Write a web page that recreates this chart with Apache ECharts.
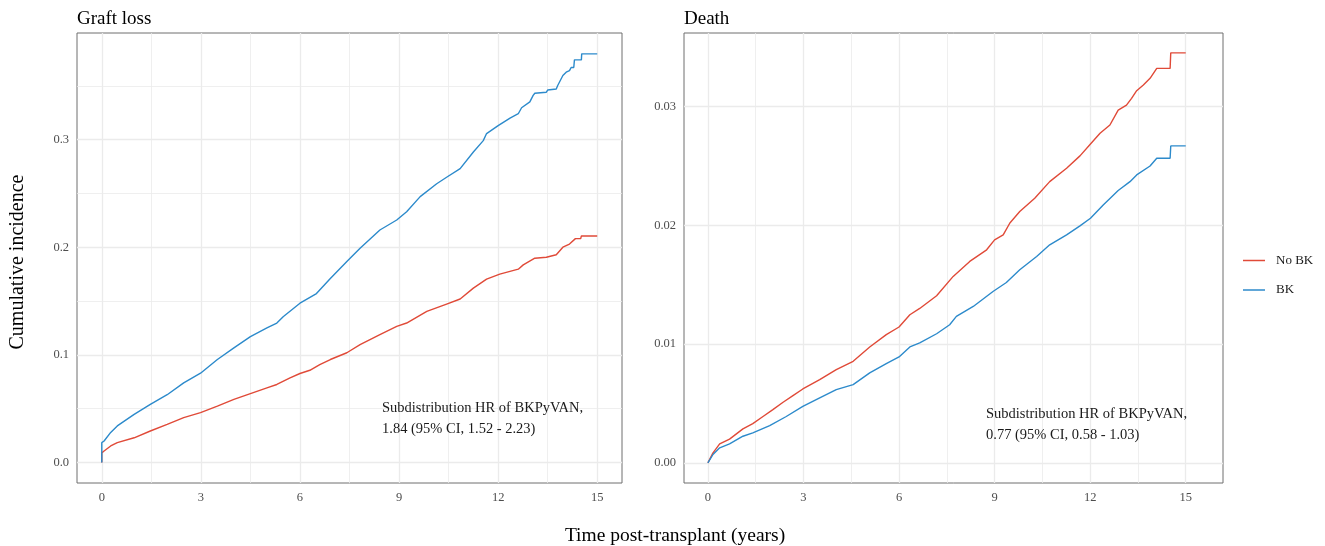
<!DOCTYPE html>
<html>
<head>
<meta charset="utf-8">
<title>Cumulative incidence</title>
<script src="https://cdn.jsdelivr.net/npm/echarts@6.0.0/dist/echarts.min.js"></script>
<style>
  html, body { margin: 0; padding: 0; background: #fff; }
  #chart { width: 1325px; height: 546px; }
</style>
</head>
<body>
<div id="chart"></div>
<script>
// ---- data (years, cumulative incidence) ----
const graftNoBkTime = [0, 0, 0.07, 0.27, 0.47, 0.98, 1.47, 1.98, 2.48, 2.99, 3.5, 4.0, 4.5, 5.0, 5.3, 5.7, 6.0, 6.3, 6.6, 6.92, 7.42, 7.82, 8.42, 8.93, 9.23, 9.84, 10.44, 10.85, 11.25, 11.65, 12.05, 12.61, 12.76, 13.11, 13.46, 13.76, 13.96, 14.16, 14.34, 14.5, 14.52, 15]
const graftNoBk = [0, 0.009, 0.0107, 0.0154, 0.0185, 0.023, 0.0293, 0.0355, 0.0417, 0.0463, 0.0524, 0.0586, 0.064, 0.0694, 0.0725, 0.0787, 0.0827, 0.0857, 0.091, 0.0957, 0.102, 0.1095, 0.1188, 0.1265, 0.1296, 0.1404, 0.1472, 0.1519, 0.162, 0.1704, 0.175, 0.1796, 0.1836, 0.1898, 0.1907, 0.193, 0.2, 0.203, 0.208, 0.208, 0.2105, 0.2105]

const graftBkTime = [0, 0, 0.07, 0.27, 0.47, 0.98, 1.47, 1.98, 2.48, 2.99, 3.5, 4.0, 4.5, 5.0, 5.3, 5.5, 6.0, 6.5, 6.92, 7.42, 7.82, 8.42, 8.93, 9.23, 9.64, 10.14, 10.44, 10.85, 11.25, 11.55, 11.65, 12.0, 12.36, 12.61, 12.71, 12.96, 13.06, 13.11, 13.46, 13.5, 13.76, 13.8, 13.96, 14.06, 14.16, 14.2, 14.21, 14.29, 14.31, 14.52, 14.53, 15]
const graftBk = [0, 0.0185, 0.02, 0.028, 0.034, 0.0447, 0.054, 0.063, 0.074, 0.083, 0.0957, 0.1065, 0.117, 0.125, 0.1296, 0.1357, 0.148, 0.157, 0.171, 0.1867, 0.199, 0.216, 0.2253, 0.233, 0.247, 0.259, 0.265, 0.273, 0.2885, 0.299, 0.3056, 0.313, 0.32, 0.324, 0.3296, 0.335, 0.341, 0.343, 0.344, 0.346, 0.347, 0.35, 0.3595, 0.3626, 0.364, 0.364, 0.367, 0.367, 0.374, 0.374, 0.3796, 0.3796]

const deathNoBkTime = [0, 0.16, 0.37, 0.68, 1.1, 1.41, 1.73, 2.04, 2.36, 2.67, 2.98, 3.51, 4.03, 4.56, 5.08, 5.6, 6.0, 6.34, 6.65, 7.18, 7.7, 8.22, 8.75, 9.0, 9.27, 9.48, 9.79, 10.26, 10.73, 11.26, 11.68, 12.01, 12.31, 12.62, 12.88, 13.14, 13.3, 13.46, 13.67, 13.88, 14.09, 14.51, 14.53, 15]
const deathNoBk = [0, 0.00084, 0.0016, 0.002, 0.00286, 0.0033, 0.0039, 0.00448, 0.0051, 0.00566, 0.00622, 0.007, 0.00785, 0.00855, 0.00975, 0.0108, 0.01144, 0.01247, 0.013, 0.01407, 0.0157, 0.01696, 0.01794, 0.01878, 0.0192, 0.0202, 0.02116, 0.02229, 0.02368, 0.02481, 0.02585, 0.02685, 0.02775, 0.02845, 0.02971, 0.03013, 0.0307, 0.03134, 0.03182, 0.03238, 0.03322, 0.03322, 0.03453, 0.03453]

const deathBkTime = [0, 0.16, 0.37, 0.68, 1.1, 1.41, 1.94, 2.46, 2.98, 3.51, 4.03, 4.56, 5.08, 5.6, 6.0, 6.34, 6.65, 7.18, 7.59, 7.8, 8.33, 8.95, 9.37, 9.79, 10.32, 10.73, 11.26, 11.68, 12.01, 12.41, 12.88, 13.25, 13.46, 13.88, 14.09, 14.51, 14.53, 15]
const deathBk = [0, 0.0007, 0.00126, 0.0016, 0.00224, 0.00252, 0.00314, 0.0039, 0.00476, 0.00547, 0.00616, 0.00659, 0.00757, 0.00835, 0.00892, 0.00976, 0.0101, 0.01087, 0.01163, 0.01233, 0.01317, 0.01443, 0.01519, 0.01626, 0.01738, 0.01836, 0.0192, 0.01996, 0.0206, 0.02172, 0.02293, 0.02368, 0.02425, 0.025, 0.02565, 0.02565, 0.02669, 0.02669]

// ---- ticks / grid breaks ----
const xTicks = [0, 3, 6, 9, 12, 15]
const xMinor = [1.5, 4.5, 7.5, 10.5, 13.5]
const graftYTicks = [0, 0.1, 0.2, 0.3]
const graftYMinor = [0.05, 0.15, 0.25, 0.35]
const deathYTicks = [0, 0.01, 0.02, 0.03]
const deathYMinor = [0.005, 0.015, 0.025, 0.035]

const RED = '#E04A38'
const BLUE = '#2C8ACB'
const FONT = '"Liberation Serif", "Times New Roman", serif'

const chart = echarts.init(document.getElementById('chart'))

const toPairs = (t, v) => t.map((x, i) => [x, v[i]])

const valueAxis = (gridIndex, min, max, ticks, digits) => ({
  type: 'value',
  gridIndex,
  min,
  max,
  axisLine: { show: false },
  axisTick: {
    show: true,
    customValues: ticks,
    length: 4,
    lineStyle: { color: '#333', width: 1 },
  },
  axisLabel: {
    customValues: ticks,
    color: '#4D4D4D',
    fontFamily: FONT,
    fontSize: 12.5,
    margin: 8,
    formatter: (v) => v.toFixed(digits),
  },
  splitLine: { show: false },
})

const gridSeries = (idx, xs, ys, width) => ({
  type: 'line',
  xAxisIndex: idx,
  yAxisIndex: idx,
  data: [],
  silent: true,
  z: 1,
  markLine: {
    z: 1,
    silent: true,
    animation: false,
    symbol: ['none', 'none'],
    label: { show: false },
    lineStyle: { color: '#EBEBEB', width, type: 'solid' },
    emphasis: { disabled: true },
    data: xs.map((v) => ({ xAxis: v })).concat(ys.map((v) => ({ yAxis: v }))),
  },
})

const curve = (idx, name, color, t, v) => ({
  name,
  type: 'line',
  xAxisIndex: idx,
  yAxisIndex: idx,
  data: toPairs(t, v),
  showSymbol: false,
  symbol: 'none',
  z: 10,
  lineStyle: { color, width: 1.4 },
  itemStyle: { color },
  animation: false,
})

const option = {
  backgroundColor: '#fff',
  animation: false,
  textStyle: { fontFamily: FONT },
  grid: [
    { left: 77, top: 33, width: 545, height: 450, show: true, backgroundColor: '#fff', borderColor: '#6E6E6E', borderWidth: 1 },
    { left: 684, top: 33, width: 539, height: 450, show: true, backgroundColor: '#fff', borderColor: '#6E6E6E', borderWidth: 1 },
  ],
  xAxis: [
    valueAxis(0, -0.75, 15.75, xTicks, 0),
    valueAxis(1, -0.75, 16.17, xTicks, 0),
  ],
  yAxis: [
    valueAxis(0, -0.019, 0.399, graftYTicks, 1),
    valueAxis(1, -0.0017, 0.0362, deathYTicks, 2),
  ],
  legend: {
    data: ['No BK', 'BK'],
    orient: 'vertical',
    left: 1238,
    top: 249,
    icon: 'rect',
    itemWidth: 22,
    itemHeight: 1.5,
    itemGap: 16.5,
    textStyle: { fontFamily: FONT, fontSize: 13, color: '#1a1a1a', padding: [0, 0, 0, 6] },
  },
  graphic: [
    { type: 'text', z: 100, left: 77, top: 10, style: { text: 'Graft loss', font: '19px ' + FONT, fill: '#000' } },
    { type: 'text', z: 100, left: 684, top: 10, style: { text: 'Death', font: '19px ' + FONT, fill: '#000' } },
    {
      type: 'text', z: 100, x: 18, y: 262, rotation: Math.PI / 2,
      style: { text: 'Cumulative incidence', font: '20px ' + FONT, fill: '#000', align: 'center', verticalAlign: 'middle' },
    },
    {
      type: 'text', z: 100, x: 675, y: 536,
      style: { text: 'Time post-transplant (years)', font: '19.5px ' + FONT, fill: '#000', align: 'center', verticalAlign: 'middle' },
    },
    {
      type: 'text', z: 100, x: 382, y: 398,
      style: { text: 'Subdistribution HR of BKPyVAN,\n1.84 (95% CI, 1.52 - 2.23)', font: '14.5px ' + FONT, lineHeight: 21, fill: '#1a1a1a' },
    },
    {
      type: 'text', z: 100, x: 986, y: 404,
      style: { text: 'Subdistribution HR of BKPyVAN,\n0.77 (95% CI, 0.58 - 1.03)', font: '14.5px ' + FONT, lineHeight: 21, fill: '#1a1a1a' },
    },
  ],
  series: [
    gridSeries(0, xTicks, graftYTicks, 1.3),
    gridSeries(0, xMinor, graftYMinor, 0.8),
    gridSeries(1, xTicks, deathYTicks, 1.3),
    gridSeries(1, xMinor, deathYMinor, 0.8),
    curve(0, 'No BK', RED, graftNoBkTime, graftNoBk),
    curve(0, 'BK', BLUE, graftBkTime, graftBk),
    curve(1, 'No BK', RED, deathNoBkTime, deathNoBk),
    curve(1, 'BK', BLUE, deathBkTime, deathBk),
  ],
}

chart.setOption(option)
</script>
</body>
</html>
